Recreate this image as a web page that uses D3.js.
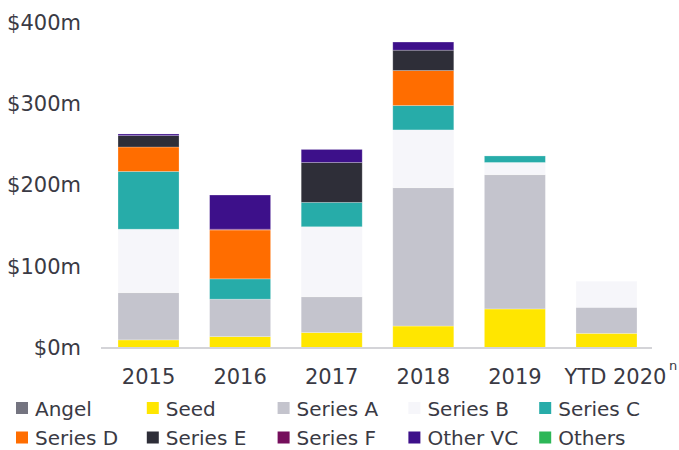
<!DOCTYPE html>
<html>
<head>
<meta charset="utf-8">
<script src="https://cdn.jsdelivr.net/npm/d3@7/dist/d3.min.js"></script>
<style>
  body { margin: 0; background: #fff; }
  svg { display: block; font-family: 'DejaVu Sans', sans-serif; }
</style>
</head>
<body>
<div id="chart"></div>
<script>
// funding by round, $m
const categories = ['2015', '2016', '2017', '2018', '2019', 'YTD 2020'];
const seriesNames = ['Angel', 'Seed', 'Series A', 'Series B', 'Series C', 'Series D', 'Series E', 'Series F', 'Other VC', 'Others'];

const angel = [0, 0, 0, 0, 0, 0];
const seed = [10, 14, 19, 27, 48, 18];
const seriesA = [58, 46, 44, 170, 165, 32];
const seriesB = [78, 0, 86, 71, 15, 32];
const seriesC = [71, 25, 30, 30, 8, 0];
const seriesD = [30, 60, 0, 43, 0, 0];
const seriesE = [14, 0, 49, 25, 0, 0];
const seriesF = [0, 1, 0, 0, 0, 0];
const otherVC = [2, 42, 16, 10, 0, 0];
const others = [0, 0, 0, 0, 0, 0];

const yTicks = [0, 100, 200, 300, 400];

const colors = ['#747480', '#ffe600', '#c4c4cd', '#f6f6fa', '#27aca9', '#ff6d00', '#2e2e38', '#750e5c', '#3d108a', '#2db757'];

const width = 679;
const height = 450;
const textColor = '#3a3a44';

// build rows for d3.stack
const valueLists = [angel, seed, seriesA, seriesB, seriesC, seriesD, seriesE, seriesF, otherVC, others];
const rows = categories.map((c, i) => {
  const row = { category: c };
  seriesNames.forEach((s, j) => { row[s] = valueLists[j][i]; });
  return row;
});

const svg = d3
  .select('#chart')
  .append('svg')
  .attr('width', width)
  .attr('height', height);

const x = d3
  .scaleBand()
  .domain(categories)
  .range([103, 652])
  .paddingInner(0.334)
  .paddingOuter(0.164);

const y = d3.scaleLinear().domain([0, 400]).range([348, 22.5]);

const stacked = d3.stack().keys(seriesNames)(rows);

// bars
svg
  .append('g')
  .selectAll('g')
  .data(stacked)
  .join('g')
  .attr('fill', (d, i) => colors[i])
  .selectAll('rect')
  .data(d => d.filter(p => p[1] - p[0] > 0))
  .join('rect')
  .attr('x', d => x(d.data.category))
  .attr('width', x.bandwidth())
  .attr('y', d => y(d[1]))
  .attr('height', d => y(d[0]) - y(d[1]))
  .attr('stroke', '#fff')
  .attr('stroke-opacity', 0.3)
  .attr('stroke-width', 0.8);

// x axis
const xAxis = svg
  .append('g')
  .attr('transform', `translate(0,${y(0)})`)
  .call(d3.axisBottom(x).tickSize(0).tickPadding(21));
xAxis.select('.domain').attr('stroke', '#d4d4d8').attr('stroke-width', 2).attr('d', 'M101,0H652');
xAxis.selectAll('text').attr('font-size', 21).attr('fill', textColor).attr('font-family', 'DejaVu Sans');

// last label sits a little right, with its footnote marker
xAxis
  .selectAll('.tick')
  .filter(d => d === 'YTD 2020')
  .select('text')
  .attr('dx', 9);

svg
  .append('text')
  .attr('x', 669)
  .attr('y', 370)
  .attr('font-size', 13)
  .attr('fill', textColor)
  .text('n');

// y axis
const yAxis = svg
  .append('g')
  .attr('transform', 'translate(81,0)')
  .call(d3.axisLeft(y).tickValues(yTicks).tickSize(0).tickPadding(0).tickFormat(d => `$${d}m`));
yAxis.select('.domain').remove();
yAxis.selectAll('text').attr('font-size', 21).attr('fill', textColor).attr('font-family', 'DejaVu Sans');

// legend, 5 per row
const legend = svg
  .append('g')
  .selectAll('g')
  .data(seriesNames)
  .join('g')
  .attr('transform', (d, i) => `translate(${16 + (i % 5) * 130.8},${402 + Math.floor(i / 5) * 29.5})`);

legend
  .append('rect')
  .attr('width', 12)
  .attr('height', 12)
  .attr('fill', (d, i) => colors[i]);

legend
  .append('text')
  .attr('x', 19)
  .attr('y', 13.5)
  .attr('font-size', 20)
  .attr('fill', textColor)
  .text(d => d);
</script>
</body>
</html>
